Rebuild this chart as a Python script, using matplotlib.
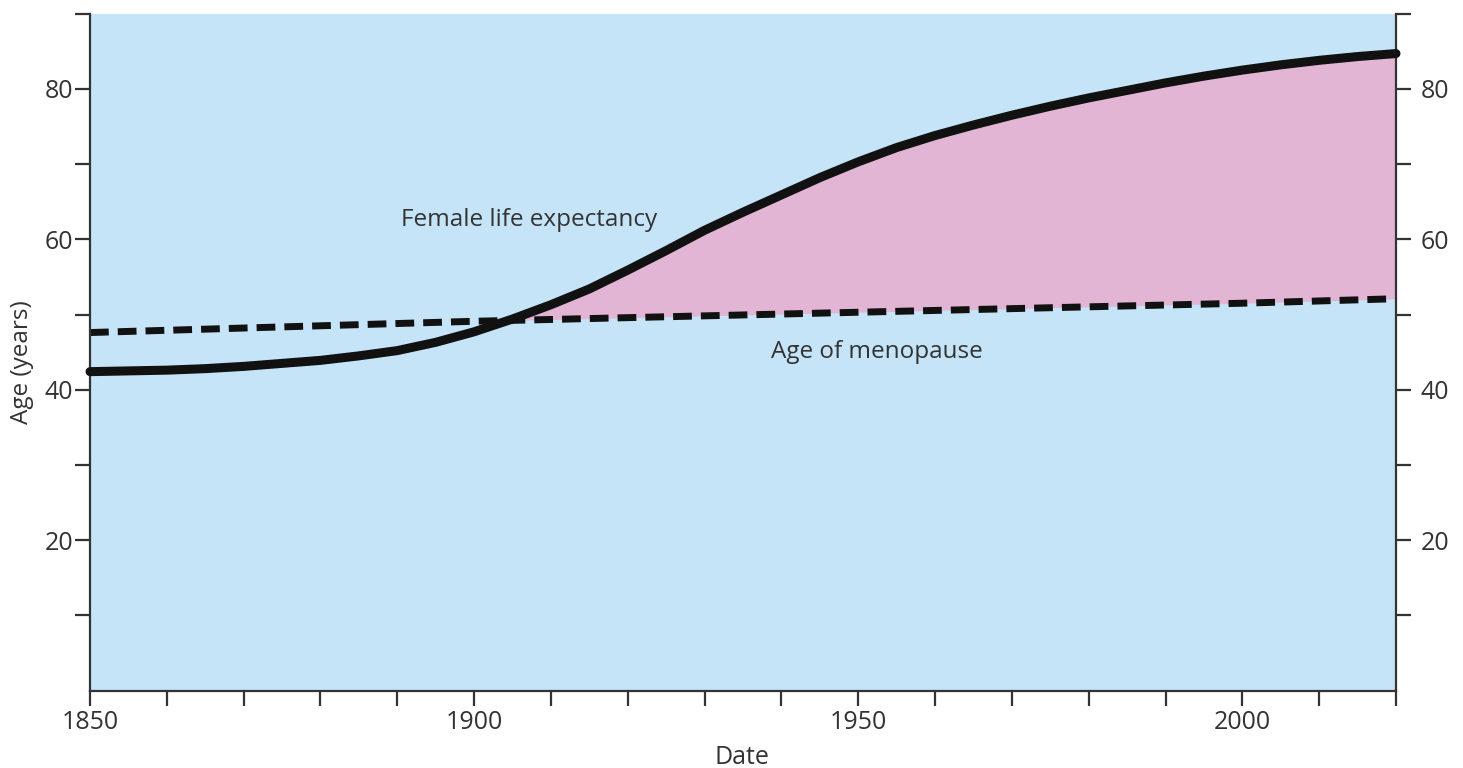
import matplotlib
matplotlib.use("Agg")
import matplotlib.pyplot as plt
import numpy as np

plt.rcParams['font.family'] = ['Open Sans', 'DejaVu Sans']

# Female life expectancy (years)
years = [1850, 1855, 1860, 1865, 1870, 1875, 1880, 1885, 1890, 1895, 1900,
         1905, 1910, 1915, 1920, 1925, 1930, 1935, 1940, 1945, 1950, 1955,
         1960, 1965, 1970, 1975, 1980, 1985, 1990, 1995, 2000, 2005, 2010,
         2015, 2020]
life_expectancy = [42.4, 42.5, 42.6, 42.8, 43.1, 43.5, 43.9, 44.5, 45.2, 46.3,
                   47.7, 49.4, 51.3, 53.4, 55.9, 58.5, 61.2, 63.6, 65.9, 68.2,
                   70.3, 72.2, 73.8, 75.2, 76.5, 77.7, 78.8, 79.8, 80.8, 81.7,
                   82.5, 83.2, 83.8, 84.3, 84.7]

# Age of menopause (years)
meno_years = [1850, 1900, 1950, 2000, 2020]
menopause = [47.6, 49.1, 50.3, 51.5, 52.1]

meno_on_grid = np.interp(years, meno_years, menopause)

text_color = '#333333'
bg_blue = '#c5e4f7'
pink = '#e3b5d5'
W, H = 1463, 768

fig = plt.figure(figsize=(W / 100, H / 100), dpi=100)
ax = fig.add_axes([90 / W, (H - 690.5) / H, (1396 - 90) / W, (690.5 - 13.7) / H])
ax.set_facecolor(bg_blue)

ax.fill_between(years, meno_on_grid, life_expectancy,
                where=np.array(life_expectancy) >= meno_on_grid,
                interpolate=True, color=pink, linewidth=0, zorder=1)
ax.plot(meno_years, menopause, color='#111111', lw=5.0,
        ls=(0, (2.7, 1.3)), dash_capstyle='butt', zorder=2)
ax.plot(years, life_expectancy, color='#111111', lw=6.5,
        solid_capstyle='round', solid_joinstyle='round', zorder=3,
        clip_on=False)

ax.set_xlim(1850, 2020)
ax.set_ylim(0, 90)

xt = list(range(1850, 2021, 10))
yt = list(range(10, 91, 10))
ax.set_xticks(xt)
ax.set_xticklabels([str(y) if y % 50 == 0 else '' for y in xt])
ax.set_yticks(yt)
ax.set_yticklabels([str(v) if v % 20 == 0 else '' for v in yt])

for side in ['left', 'right', 'bottom']:
    ax.spines[side].set_color(text_color)
    ax.spines[side].set_linewidth(1.6)
ax.spines['top'].set_visible(False)

ax.tick_params(axis='both', direction='out', length=10.5, width=1.6,
               color=text_color, labelcolor=text_color, labelsize=18)
ax.tick_params(axis='y', pad=1.5)
ax.tick_params(axis='x', pad=3.5)

ax2 = ax.twinx()
ax2.set_ylim(0, 90)
ax2.set_yticks(yt)
ax2.set_yticklabels([str(v) if v % 20 == 0 else '' for v in yt])
ax2.tick_params(axis='y', direction='out', length=10.5, width=1.6, pad=7,
                color=text_color, labelcolor=text_color, labelsize=18)
for s in ax2.spines.values():
    s.set_visible(False)

fig.text(742 / W, 1 - 757 / H, 'Date', fontsize=18, color=text_color,
         ha='center', va='center')
fig.text(22 / W, 1 - 362 / H, 'Age (years)', fontsize=17.5, color=text_color,
         ha='center', va='center', rotation=90)

ax.text(1890.5, 62.6, 'Female life expectancy', fontsize=17.5,
        color=text_color, va='center', ha='left')
ax.text(1938.7, 45.0, 'Age of menopause', fontsize=17.5,
        color=text_color, va='center', ha='left')

fig.savefig('out.png', dpi=100)
